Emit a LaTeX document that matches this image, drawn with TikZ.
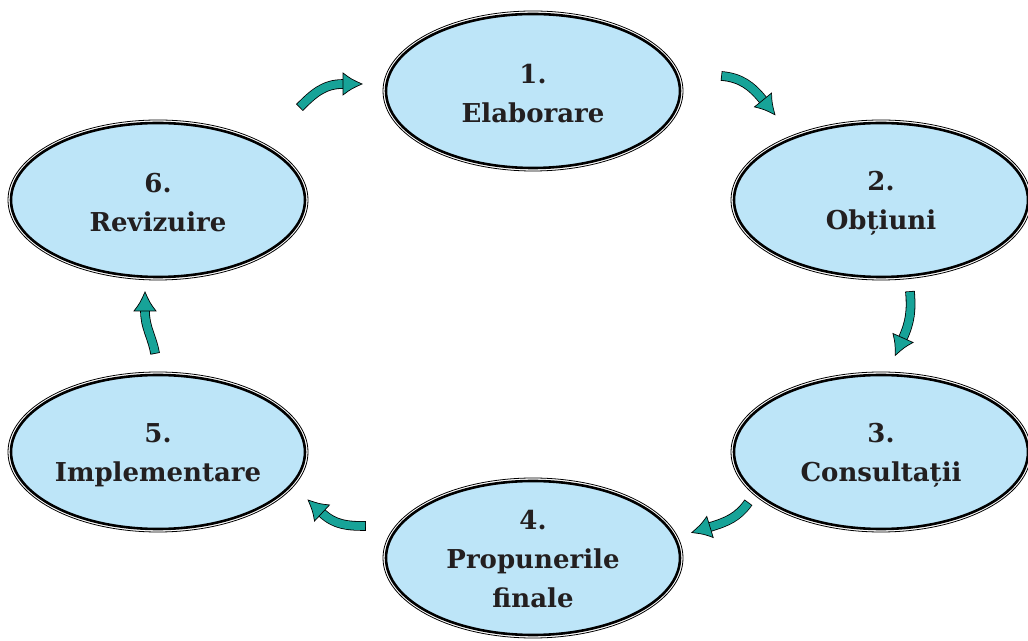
\documentclass[tikz,border=0pt]{standalone}
\usepackage{fontspec}
\setmainfont{DejaVu Serif}
\usetikzlibrary{shapes.geometric,decorations.markings}
\definecolor{ellfill}{HTML}{BDE5F8}
\definecolor{arrteal}{HTML}{17A398}
\definecolor{txt}{HTML}{231F20}
\begin{document}
\begin{tikzpicture}[x=1pt,y=1pt,
  stage/.style={ellipse, draw=black, line width=2.6pt, fill=ellfill,
    minimum width=294pt, minimum height=154pt, inner sep=0pt},
  ring/.style={draw=black, line width=0.8pt},
  stagetext/.style={font=\fontsize{26}{39}\selectfont\bfseries, text=txt, align=center},
  cyclearrow/.style={draw=arrteal, line width=8pt,
    preaction={draw=black, line width=9.6pt, shorten <=-0.8pt},
    postaction={decorate},
    decoration={markings, mark=at position 1 with {
      \filldraw[fill=arrteal, draw=black, line width=0.7pt, line join=miter]
        (0,11) .. controls (8,5) .. (19,0) .. controls (8,-5) .. (0,-11) -- cycle;}}}
]
\useasboundingbox (0,0) rectangle (1028,640);
% stages
\node[stage] (e1) at (533,549) {};
\node[stage] (e2) at (881,440) {};
\node[stage] (e3) at (881,188) {};
\node[stage] (e4) at (533,82) {};
\node[stage] (e5) at (158,188) {};
\node[stage] (e6) at (158,440) {};
\foreach \n in {e1,e2,e3,e4,e5,e6}
  \draw[ring] (\n.center) ellipse [x radius=150pt, y radius=80pt];
\node[stagetext] (t1) at ([yshift=-3pt]e1.center) {1.\\Elaborare};
\node[stagetext] (t2) at ([yshift=-3pt]e2.center) {2.\\Obțiuni};
\node[stagetext] (t3) at ([yshift=-3pt]e3.center) {3.\\Consultații};
\node[stagetext] (t4) at ([yshift=-1pt]e4.center) {4.\\Propunerile\\finale};
\node[stagetext] (t5) at ([yshift=-3pt]e5.center) {5.\\Implementare};
\node[stagetext] (t6) at ([yshift=-3pt]e6.center) {6.\\Revizuire};
% arrow ends
\coordinate (a1s) at (300,533); \coordinate (a1e) at (343,556);
\coordinate (a2s) at (722,564); \coordinate (a2e) at (763,540);
\coordinate (a3s) at (910,348); \coordinate (a3e) at (903,302);
\coordinate (a4s) at (748,137); \coordinate (a4e) at (710,113);
\coordinate (a5s) at (365,114); \coordinate (a5e) at (322,127);
\coordinate (a6s) at (155,287); \coordinate (a6e) at (145,329);
\draw[cyclearrow] (a1s) to[out=45,in=180] (a1e);
\draw[cyclearrow] (a2s) to[out=-5,in=129] (a2e);
\draw[cyclearrow] (a3s) to[out=-85,in=66] (a3e);
\draw[cyclearrow] (a4s) to[out=-125,in=17] (a4e);
\draw[cyclearrow] (a5s) to[out=180,in=-43] (a5e);
\draw[cyclearrow] (a6s) to[out=100,in=-90] (a6e);
\end{tikzpicture}
\end{document}
